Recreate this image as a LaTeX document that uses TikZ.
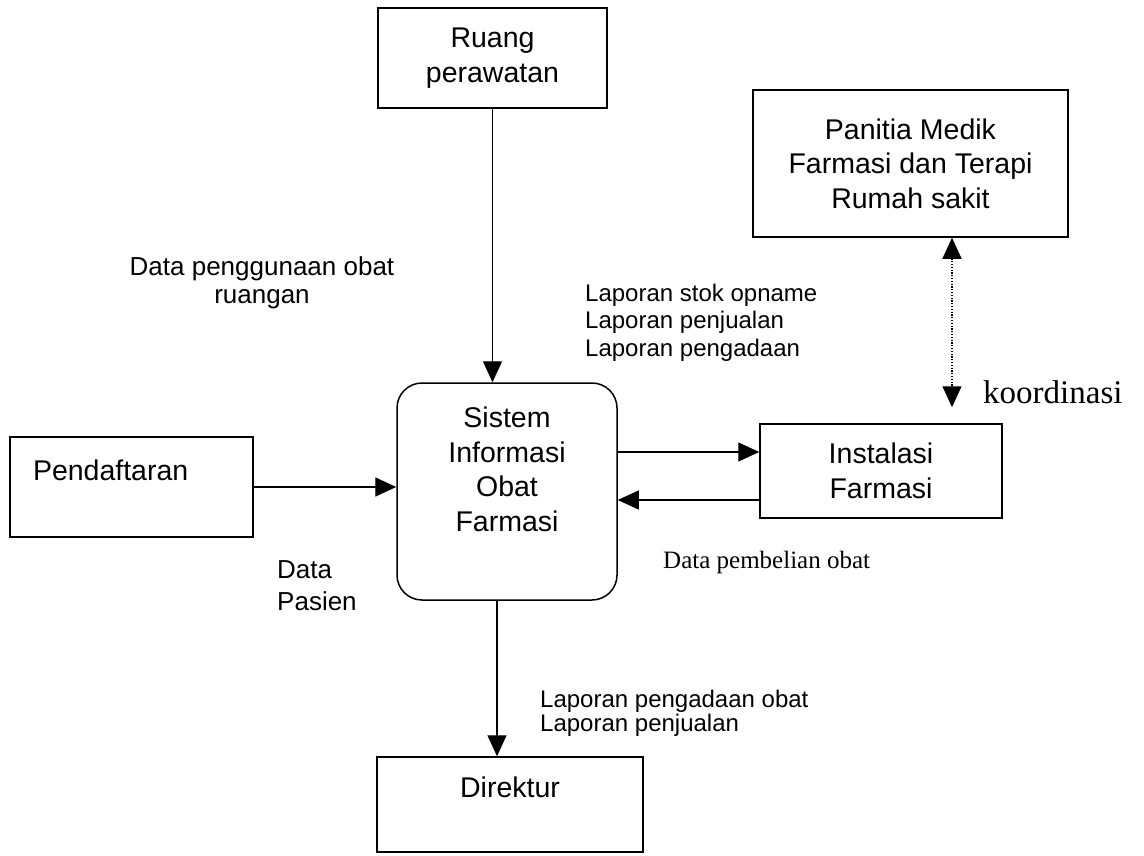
\documentclass[tikz,border=0pt]{standalone}
\usepackage{fontspec}
\setmainfont{Liberation Sans}
\newfontfamily\timesf{Liberation Serif}
\usetikzlibrary{arrows.meta,calc}
\begin{document}
\begin{tikzpicture}[x=1pt,y=-1pt,
  box/.style={draw, line width=1.5pt, inner sep=0pt, align=center, font=\fontsize{28.5}{34.5}\selectfont},
  lbl/.style={inner sep=0pt, align=left, font=\fontsize{24}{27.5}\selectfont},
  arr/.style={line width=1.4pt, -{Triangle[length=21pt,width=19pt]}},
  dotarr/.style={line width=1.3pt, dash pattern=on 1.2pt off 1.6pt, {Triangle[length=21pt,width=19pt]}-{Triangle[length=21pt,width=19pt]}},
]
\useasboundingbox (0,0) rectangle (1144,855);
% boxes
\node[box, minimum width=229pt, minimum height=100pt] (ruang) at (492.5,58) {Ruang\\perawatan};
\node[box, minimum width=315pt, minimum height=147pt] (panitia) at (910.5,163.5) {Panitia Medik\\Farmasi dan Terapi\\Rumah sakit};
\node[box, rounded corners=25pt, minimum width=220pt, minimum height=217pt] (sistem) at (507,491.5) {Sistem\\Informasi\\Obat\\Farmasi\\[10pt]\mbox{}};
\node[box, align=left, text width=197pt, inner xsep=23pt, minimum height=100pt] (pend) at (131.5,487) {Pendaftaran\\\mbox{}};
\node[box, minimum width=242pt, minimum height=94pt] (inst) at (881,471) {Instalasi\\Farmasi};
\node[box, minimum width=266pt, minimum height=95pt] (dir) at (510,804.5) {Direktur\\\mbox{}};
% labels
\node[lbl, align=center, font=\fontsize{26}{27.5}\selectfont] (l1) at (262,283) {Data penggunaan obat\\ruangan};
\node[lbl, anchor=north west] (l2) at (585,283.5) {Laporan stok opname\\Laporan penjualan\\Laporan pengadaan};
\node[lbl, anchor=north west, font=\fontsize{26}{32}\selectfont] (l3) at (277,560.6) {Data\\Pasien};
\node[inner sep=0pt, anchor=base west, font=\timesf\fontsize{25}{30}\selectfont] (l4) at (663,568.5) {Data pembelian obat};
\node[inner sep=0pt, anchor=base west, font=\timesf\fontsize{33}{40}\selectfont] (l5) at (983,403) {koordinasi};
\node[lbl, anchor=north west, font=\fontsize{24}{24}\selectfont] (l6) at (540,689.5) {Laporan pengadaan obat\\Laporan penjualan};
% helper coordinates
\coordinate (p1) at ([yshift=19pt]inst.west);
\coordinate (p2) at ([yshift=-29pt]inst.west);
\coordinate (p3) at ([xshift=-10pt]sistem.south);
\coordinate (p4) at ([xshift=41.5pt]panitia.south);
\path (p4 |- inst.north) ++(0,-16) coordinate (p5);
% connectors
\draw[arr] (ruang.south) -- (ruang.south |- sistem.north);
\draw[arr] (pend.east) -- (pend.east -| sistem.west);
\draw[arr] (p1 -| sistem.east) -- (p1);
\draw[arr] (p2) -- (p2 -| sistem.east);
\draw[arr] (p3) -- (p3 |- dir.north);
\draw[dotarr] (p4) -- (p5);
\end{tikzpicture}
\end{document}
